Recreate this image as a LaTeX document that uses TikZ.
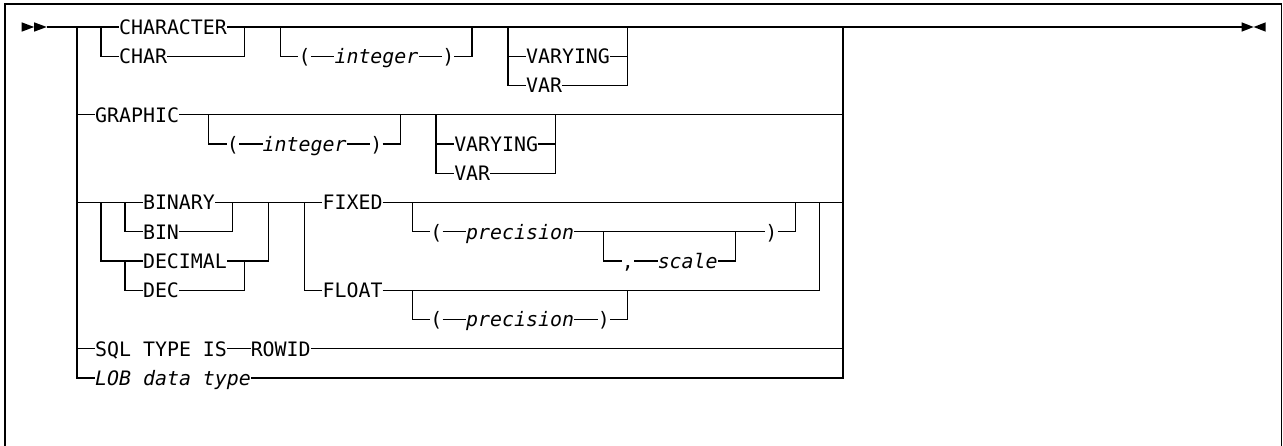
\documentclass[tikz,border=0pt]{standalone}
\usepackage{fontspec}
\usepackage{tikz}
\newfontfamily\raildjv{DejaVu Sans Mono}[ItalicFont={DejaVu Sans Mono Oblique}]
\newcommand{\railfont}{\raildjv\fontsize{19.9pt}{24pt}\selectfont}

\begin{document}
\begin{tikzpicture}[x=11.97pt, y=-29.25pt,
  rail/.style={line width=1.3pt},
  kw/.style={anchor=west, inner xsep=0pt, inner ysep=0pt,
             text height=14.5pt, text depth=0pt, font=\railfont},
  arg/.style={kw, font=\railfont\itshape}]
\useasboundingbox (-6.433,-0.923) rectangle (100.752,14.291);
\clip (-6.433,-0.923) rectangle (100.752,14.291);
% ---- frame --------------------------------------------------------
\draw[line width=1.5pt] (-6.02,-0.79) rectangle (100.63,14.8);
% ---- start and end marks ------------------------------------------
\coordinate (start) at (-2.53,0);
\coordinate (stop) at (97.3,0);
\fill (-4.62,-0.16) -- (-3.58,0) -- (-4.62,0.16) -- cycle;
\fill (-3.58,-0.16) -- (start) -- (-3.58,0.16) -- cycle;
\fill (stop) -- (98.3,0) -- (97.3,0.16) -- (97.3,-0.16) -- (98.3,0) -- cycle;
\fill (99.3,-0.16) -- (98.3,0) -- (99.3,0.16) -- cycle;
% ---- bracket columns ----------------------------------------------
\coordinate (mainL) at (0,0);   \coordinate (mainR) at (64,0);
\coordinate (typeL) at (2,0);   \coordinate (typeR) at (14,0);
\coordinate (lenAL) at (17,0);  \coordinate (lenAR) at (33,0);
\coordinate (varAL) at (36,0);  \coordinate (varAR) at (46,0);
\coordinate (lenBL) at (11,3);  \coordinate (lenBR) at (27,3);
\coordinate (varBL) at (30,3);  \coordinate (varBR) at (40,3);
\coordinate (signL) at (2,6);   \coordinate (signR) at (16,6);
\coordinate (binL) at (4,6);    \coordinate (binR) at (13,6);
\coordinate (decL) at (4,8);    \coordinate (decR) at (14,8);
\coordinate (fxL) at (19,6);    \coordinate (fxR) at (62,6);
\coordinate (prcL) at (28,6);   \coordinate (prcR) at (60,6);
\coordinate (sclL) at (44,7);   \coordinate (sclR) at (55,7);
\coordinate (flpL) at (28,9);   \coordinate (flpR) at (46,9);
% ---- CHARACTER / CHAR ---------------------------------------------
\node[kw] (character) at (3.5,0) {CHARACTER};
\node[kw] (char) at (3.5,1) {CHAR};
\draw[rail] (start) -- (character) -- (stop);
\draw[rail] (typeL) |- (char) -| (typeR);
\node[kw] (lpA) at (18.5,1) {(};
\node[arg] (intA) at (21.5,1) {integer};
\node[kw] (rpA) at (30.5,1) {)};
\draw[rail] (lenAL) |- (lpA) -- (intA) -- (rpA) -| (lenAR);
\node[kw] (varyingA) at (37.5,1) {VARYING};
\node[kw] (varA) at (37.5,2) {VAR};
\draw[rail] (varAL) |- (varA) -| (varAR);
\draw[rail] (varAL |- varyingA) -- (varyingA) -- (varAR |- varyingA);
% ---- GRAPHIC ------------------------------------------------------
\node[kw] (graphic) at (1.5,3) {GRAPHIC};
\draw[rail] (mainL |- graphic) -- (graphic) -- (mainR |- graphic);
\node[kw] (lpB) at (12.5,4) {(};
\node[arg] (intB) at (15.5,4) {integer};
\node[kw] (rpB) at (24.5,4) {)};
\draw[rail] (lenBL) |- (lpB) -- (intB) -- (rpB) -| (lenBR);
\node[kw] (varyingB) at (31.5,4) {VARYING};
\node[kw] (varB) at (31.5,5) {VAR};
\draw[rail] (varBL) |- (varB) -| (varBR);
\draw[rail] (varBL |- varyingB) -- (varyingB) -- (varBR |- varyingB);
% ---- BINARY / DECIMAL, FIXED / FLOAT ------------------------------
\node[kw] (binary) at (5.5,6) {BINARY};
\node[kw] (bin) at (5.5,7) {BIN};
\node[kw] (decimal) at (5.5,8) {DECIMAL};
\node[kw] (dec) at (5.5,9) {DEC};
\node[kw] (fixed) at (20.5,6) {FIXED};
\node[kw] (float) at (20.5,9) {FLOAT};
\draw[rail] (mainL |- binary) -- (binary) -- (fixed) -- (mainR |- fixed);
\draw[rail] (binL) |- (bin) -| (binR);
\draw[rail] (signL) |- (decimal) -| (signR);
\draw[rail] (decL) |- (dec) -| (decR);
\draw[rail] (fxL) |- (float) -| (fxR);
\node[kw] (lpC) at (29.5,7) {(};
\node[arg] (precC) at (32.5,7) {precision};
\node[kw] (rpC) at (57.5,7) {)};
\draw[rail] (prcL) |- (lpC) -- (precC) -- (rpC) -| (prcR);
\node[kw] (comma) at (45.5,8) {,};
\node[arg] (scl) at (48.5,8) {scale};
\draw[rail] (sclL) |- (comma) -- (scl) -| (sclR);
\node[kw] (lpD) at (29.5,10) {(};
\node[arg] (precD) at (32.5,10) {precision};
\node[kw] (rpD) at (43.5,10) {)};
\draw[rail] (flpL) |- (lpD) -- (precD) -- (rpD) -| (flpR);
% ---- ROWID and LOB ------------------------------------------------
\node[kw] (sqltype) at (1.5,11) {SQL TYPE IS};
\node[kw] (rowid) at (14.5,11) {ROWID};
\node[arg] (lob) at (1.5,12) {LOB data type};
\draw[rail] (mainL |- sqltype) -- (sqltype) -- (rowid) -- (mainR |- rowid);
\draw[rail] (mainL) |- (lob) -| (mainR);
\end{tikzpicture}
\end{document}
